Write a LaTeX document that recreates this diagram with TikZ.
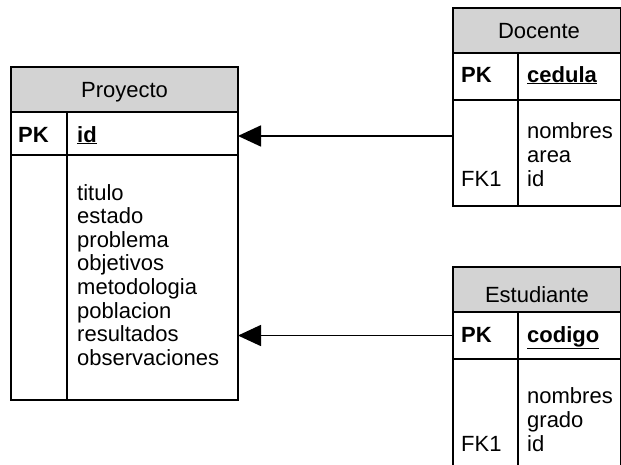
\documentclass[tikz,border=0pt]{standalone}
\usepackage{fontspec}
\setmainfont{Liberation Sans}
\usetikzlibrary{arrows.meta}
\definecolor{hdrgray}{HTML}{D3D3D3}
\newcommand{\fsz}{\fontsize{22}{24}\selectfont}
\tikzset{
  ent/.style={draw, line width=1.6pt, inner sep=0pt, anchor=north west, outer sep=0pt},
  hdr/.style={ent, fill=hdrgray},
  lbl/.style={anchor=base west, inner sep=0pt, font=\fsz},
  ttl/.style={anchor=base, inner sep=0pt, font=\fsz},
  pk/.style={anchor=base west, inner sep=0pt, font=\fsz\bfseries},
  key/.style={anchor=base west, inner sep=0pt, font=\fsz\bfseries, text depth=0pt},
  divl/.style={line width=1.6pt},
  arr/.style={line width=1.6pt, -{Triangle[length=23pt,width=21pt]}},
}
\begin{document}
\begin{tikzpicture}[x=1pt,y=-1pt]
\useasboundingbox (0,0) rectangle (621,464);
% Proyecto
\node[hdr, minimum width=227pt, minimum height=45pt] (proyh) at (11,67) {};
\node[ent, minimum width=227pt, minimum height=43pt] (proyid) at (11,112) {};
\node[ent, minimum width=227pt, minimum height=245pt] (proyb) at (11,155) {};
\draw[divl] (67,112) -- (67,400);
\node[ttl] (proyt) at (124.5,97) {Proyecto};
\node[pk] (proypk) at (18,142) {PK};
\node[key] (proyk) at (77,142) {\underline{id}};
\foreach \w [count=\i from 0] in {titulo,estado,problema,objetivos,metodologia,poblacion,resultados,observaciones}
  \node[lbl] (pa\i) at (77,{200+23.6*\i}) {\w};
% Docente
\node[hdr, minimum width=168pt, minimum height=45pt] (doch) at (453,8) {};
\node[ent, minimum width=168pt, minimum height=47pt] (docpk) at (453,53) {};
\node[ent, minimum width=168pt, minimum height=106pt] (docb) at (453,100) {};
\draw[divl] (518,53) -- (518,206);
\node[ttl] (doct) at (539,38) {Docente};
\node[pk] (docpkl) at (461,82) {PK};
\node[key] (dock) at (527,82) {\underline{cedula}};
\node[lbl] (da0) at (527,138) {nombres};
\node[lbl] (da1) at (527,162) {area};
\node[lbl] (da2) at (527,186) {id};
\node[lbl] (dfk) at (461,186) {FK1};
% Estudiante
\node[hdr, minimum width=168pt, minimum height=45pt] (esth) at (453,267) {};
\node[ent, minimum width=168pt, minimum height=47pt] (estpk) at (453,312) {};
\node[ent, minimum width=168pt, minimum height=120pt] (estb) at (453,359) {};
\draw[divl] (518,312) -- (518,479);
\node[ttl] (estt) at (537,302) {Estudiante};
\node[pk] (estpkl) at (461,342) {PK};
\node[key] (estk) at (527,342) {\underline{codigo}};
\node[lbl] (ea0) at (527,403) {nombres};
\node[lbl] (ea1) at (527,427) {grado};
\node[lbl] (ea2) at (527,451) {id};
\node[lbl] (efk) at (461,451) {FK1};
% connectors
\coordinate (c1) at ([yshift=-2.5pt]proyid.east);
\draw[arr] (docb.west |- c1) -- (c1);
\draw[arr] (estpk.west) -- (proyb.east |- estpk.west);
\end{tikzpicture}
\end{document}
